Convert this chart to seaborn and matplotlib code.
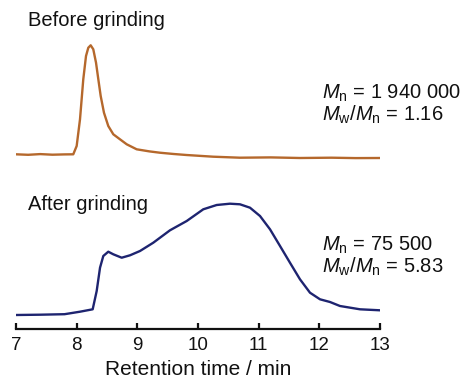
import numpy as np
import pandas as pd
import matplotlib
matplotlib.use("Agg")
import matplotlib.pyplot as plt
import seaborn as sns

# Retention time (min) and detector signal (arbitrary units)
before_t = [7.00, 7.20, 7.40, 7.60, 7.80, 7.944, 8.000, 8.055, 8.109, 8.154, 8.192,
            8.231, 8.274, 8.319, 8.357, 8.396, 8.450, 8.521, 8.604, 8.714, 8.825,
            8.989, 9.20, 9.37, 9.60, 9.81, 10.25, 10.69, 11.20, 11.68, 12.20,
            12.60, 13.00]
before_s = [174.7, 174.2, 174.9, 174.3, 174.6, 174.7, 183, 209.7, 249.7, 273, 281.3,
            283.7, 279.7, 266.3, 249.7, 233, 216.3, 203, 194.7, 189.7, 184.7,
            179.7, 177.6, 176.3, 175.0, 174.0, 172.3, 171.3, 171.6, 171.0, 171.3,
            170.9, 171.0]

after_t = [7.00, 7.40, 7.80, 8.055, 8.264, 8.330, 8.385, 8.439, 8.521, 8.604, 8.742,
           8.879, 9.044, 9.263, 9.538, 9.814, 10.087, 10.308, 10.527, 10.692,
           10.857, 11.022, 11.187, 11.352, 11.516, 11.681, 11.846, 12.011, 12.176,
           12.34, 12.67, 13.00]
after_s = [14.0, 14.3, 14.8, 17.3, 19.7, 38, 61.3, 73, 77.3, 74.7, 71.3,
           73.7, 78, 86.3, 98.7, 108, 119.7, 124, 125.3, 124.7,
           121.3, 113, 99.7, 83, 66.3, 49.7, 36.3, 29.7, 27,
           23, 19.7, 18.7]

labels = ["Before grinding", "After grinding"]
stats = [("1 940 000", "1.16"), ("75 500", "5.83")]
x_ticks = [7, 8, 9, 10, 11, 12, 13]

sns.set_style("ticks")
plt.rcParams["font.family"] = ["Liberation Sans", "DejaVu Sans"]
plt.rcParams["mathtext.fontset"] = "custom"
plt.rcParams["mathtext.rm"] = "Liberation Sans"
plt.rcParams["mathtext.it"] = "Liberation Sans:italic"
plt.rcParams["text.color"] = "#111111"
plt.rcParams["axes.labelcolor"] = "#111111"
plt.rcParams["xtick.color"] = "#111111"
plt.rcParams["axes.edgecolor"] = "#111111"

W, H = 465, 381
fig = plt.figure(figsize=(W / 100, H / 100), dpi=100)
ax = fig.add_axes([16 / W, (H - 329) / H, (380 - 16) / W, 329 / H])

df = pd.concat([
    pd.DataFrame({"t": before_t, "s": before_s, "sample": labels[0]}),
    pd.DataFrame({"t": after_t, "s": after_s, "sample": labels[1]}),
])
sns.lineplot(data=df, x="t", y="s", hue="sample", palette=["#b5682c", "#1e2470"],
             linewidth=1.7, legend=False, ax=ax, sort=False)
for ln in ax.lines:
    ln.set_solid_joinstyle("round")
    ln.set_solid_capstyle("round")

ax.set_xlim(7, 13)
ax.set_ylim(0, 329)
ax.set_xticks(x_ticks)
ax.set_xticklabels([str(v) for v in x_ticks])
ax.set_yticks([])
for sp in ["top", "right", "left"]:
    ax.spines[sp].set_visible(False)
ax.spines["bottom"].set_linewidth(1.6)
ax.tick_params(axis="x", direction="in", length=4, width=1.6, labelsize=13.5, pad=6)
ax.set_xlabel("Retention time / min", fontsize=15, labelpad=4)
ax.set_ylabel("")
ax.patch.set_alpha(0)

def fx(px):
    return px / W

def fy(py):
    return 1 - py / H

fig.text(fx(28), fy(20), labels[0], fontsize=14.5, va="center", ha="left")
fig.text(fx(28), fy(204), labels[1], fontsize=14.5, va="center", ha="left")

for (mn, pdi), y0 in zip(stats, [93, 245]):
    fig.text(fx(322), fy(y0), r"$M_\mathrm{n}$ = " + mn, fontsize=14.5, va="center", ha="left")
    fig.text(fx(322), fy(y0 + 22), r"$M_\mathrm{w}/M_\mathrm{n}$ = " + pdi, fontsize=14.5,
             va="center", ha="left")

fig.savefig("out.png", dpi=100)
